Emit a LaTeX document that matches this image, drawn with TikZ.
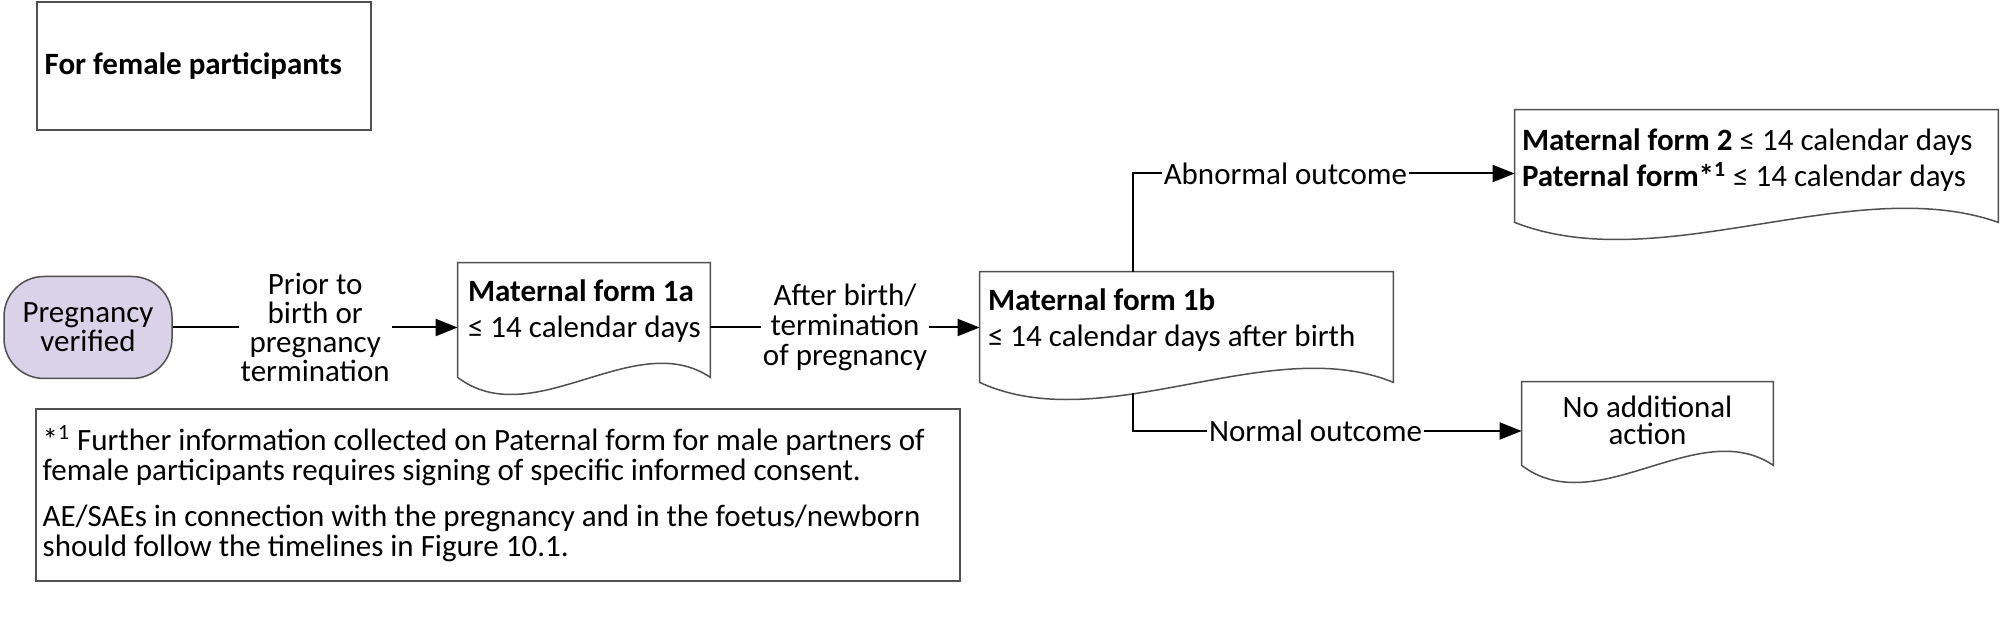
\documentclass[tikz,border=0pt]{standalone}
\usepackage{fontspec}
\setmainfont{Carlito}
\usepackage{tikz}
\usetikzlibrary{arrows.meta, positioning, calc}
\definecolor{lilac1}{RGB}{217,210,233}
\definecolor{edge1}{RGB}{80,80,80}
% document symbol with a wavy lower edge
\newcommand{\docshape}[1]{%
  \draw[docline] (#1.north west) -- (#1.north east) -- ($(#1.south east)+(0,0.15)$)
    .. controls ($(#1.south west)!0.7!(#1.south east)+(0,0.66)$) and ($(#1.south west)!0.3!(#1.south east)+(0,-0.42)$)
    .. ($(#1.south west)+(0,0.15)$) -- cycle;
}

\begin{document}
\begin{tikzpicture}[x=50pt, y=50pt,
    every node/.style={font=\fontsize{15.5}{15}\selectfont},
    docbox/.style={draw=none, inner sep=0pt},
    docline/.style={draw=edge1, line width=0.75pt, fill=white},
    doctext/.style={inner sep=0pt, anchor=base west, align=left, font=\fontsize{15.5}{18}\selectfont},
    framebox/.style={draw=edge1, line width=0.75pt, inner sep=0pt},
    startbox/.style={draw=edge1, fill=lilac1, line width=0.75pt, rounded corners=20pt, align=center,
        minimum width=84pt, minimum height=51pt, inner sep=1pt, font=\fontsize{15.5}{14.5}\selectfont},
    flowarrow/.style={-{Triangle[length=11pt, width=8.5pt]}, line width=1pt},
    flowlabel/.style={fill=white, inner sep=1pt, align=center}
]
    \useasboundingbox (0,0) rectangle (20.06,6.19);

    \node[framebox, minimum width=167pt, minimum height=64pt, name=femalebox] at(2.04,5.53) {};
    \node[anchor=west, inner sep=0pt, font=\fontsize{15.5}{15}\selectfont\bfseries, name=femaletitle]
        at ($(femalebox.west)+(0.08,0)$) {For female participants};

    \node[startbox, name=pregnancy] at(0.88,2.915) {Pregnancy\\verified};

    \node[docbox, minimum width=126pt, minimum height=64.5pt, name=form1a] at(5.84,2.915) {};
    \docshape{form1a}
    \node[doctext, name=form1a-text] at ($(form1a.north west)+(0.10,-0.75)$) {\textbf{Maternal form 1a}\\≤ 14 calendar days};

    \node[docbox, minimum width=206.5pt, minimum height=62.5pt, name=form1b] at(11.865,2.845) {};
    \docshape{form1b}
    \node[doctext, name=form1b-text] at ($(form1b.north west)+(0.08,-0.75)$) {\textbf{Maternal form 1b}\\≤ 14 calendar days after birth};
    \coordinate (form1b-top) at ($(form1b.north west)!0.37!(form1b.north east)$);
    \coordinate (form1b-wave) at ($(form1b.south west)!0.37!(form1b.south east)+(0,0.04)$);

    \node[docbox, minimum width=241.5pt, minimum height=63.5pt, name=form2] at(17.565,4.455) {};
    \docshape{form2}
    \node[doctext, name=form2-text] at ($(form2.north west)+(0.07,-0.77)$) {\textbf{Maternal form 2} ≤ 14 calendar days\\\textbf{Paternal form*\textsuperscript{1}} ≤ 14 calendar days};

    \node[docbox, minimum width=125.5pt, minimum height=49pt, name=noaction] at(16.475,1.88) {};
    \docshape{noaction}
    \node[inner sep=0pt, anchor=base, align=center, font=\fontsize{15.5}{13.5}\selectfont, name=noaction-text]
        at ($(noaction.north)+(0,-0.63)$) {No additional\\action};

    \node[framebox, minimum width=462pt, minimum height=86pt, name=notebox] at(4.98,1.24) {};
    \node[doctext, anchor=north west, font=\fontsize{15.5}{15}\selectfont, name=notebox-text] at ($(notebox.north west)+(0.07,-0.17)$)
        {*\textsuperscript{1} Further information collected on Paternal form for male partners of\\female participants requires signing of specific informed consent.\\[8pt]AE/SAEs in connection with the pregnancy and in the foetus/newborn\\should follow the timelines in Figure 10.1.};

    \draw[flowarrow] (pregnancy) -- node[flowlabel, font=\fontsize{15.5}{14.5}\selectfont] {Prior to\\birth or\\pregnancy\\termination} (form1a);
    \draw[flowarrow] (form1a.east) -- node[flowlabel, font=\fontsize{15.5}{15}\selectfont] {After birth/\\termination\\of pregnancy} (form1a.east -| form1b.west);
    \draw[flowarrow] (form1b-top) |- node[flowlabel, pos=0.70] {Abnormal outcome} (form2.west);
    \draw[flowarrow] (form1b-wave) |- node[flowlabel, pos=0.735] {Normal outcome} (noaction.west);
\end{tikzpicture}
\end{document}
